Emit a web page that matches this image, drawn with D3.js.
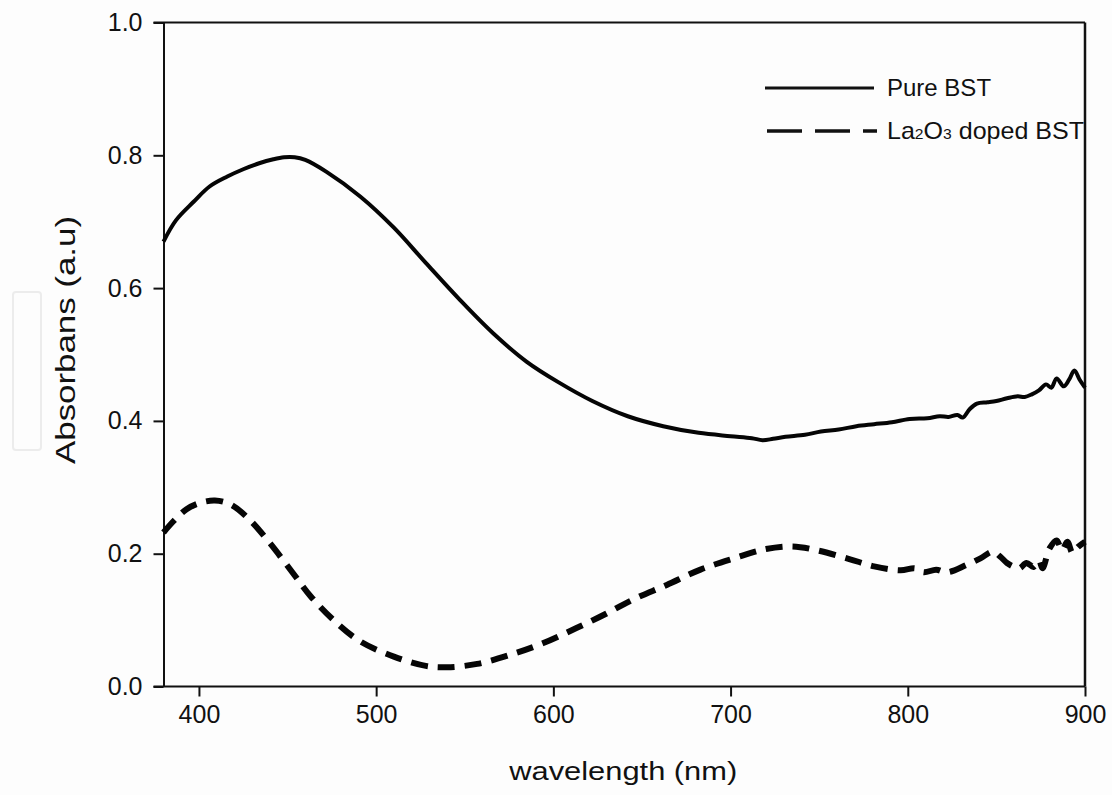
<!DOCTYPE html>
<html>
<head>
<meta charset="utf-8">
<script src="https://cdn.jsdelivr.net/npm/d3@7"></script>
<style>
  body { margin: 0; background: #fdfdfd; }
  svg { display: block; font-family: 'Liberation Sans', Arial, sans-serif; }
</style>
</head>
<body>
<svg id="chart" width="1112" height="795"></svg>
<script>
// wavelength (nm) and absorbance
const pureWl = [380, 387, 397, 406, 416, 425, 434, 442, 448, 454, 460, 472, 491, 510, 528, 547, 566, 585, 603, 622, 642, 662, 682, 700, 712, 718, 724, 731, 742, 751, 761, 771, 781, 791, 801, 811, 818, 823, 828, 831, 835, 839, 845, 850, 856, 862, 866, 870, 874, 878, 881, 884, 888, 891, 894, 897, 900];
const pureAbs = [0.670, 0.702, 0.730, 0.753, 0.768, 0.779, 0.788, 0.794, 0.797, 0.797, 0.793, 0.775, 0.738, 0.691, 0.638, 0.583, 0.532, 0.489, 0.458, 0.430, 0.407, 0.392, 0.382, 0.377, 0.374, 0.371, 0.373, 0.376, 0.379, 0.384, 0.387, 0.392, 0.395, 0.398, 0.403, 0.404, 0.407, 0.406, 0.409, 0.405, 0.418, 0.426, 0.428, 0.430, 0.434, 0.437, 0.436, 0.440, 0.446, 0.455, 0.450, 0.464, 0.452, 0.462, 0.476, 0.462, 0.450];

const dopedWl = [380, 386, 393, 400, 409, 418, 429, 440, 453, 463, 476, 491, 510, 528, 540, 557, 576, 594, 613, 630, 645, 664, 683, 702, 720, 735, 749, 767, 781, 796, 804, 809, 816, 822, 833, 841, 848, 852, 856, 860, 863, 867, 871, 874, 876, 880, 884, 887, 890, 893, 896, 900];
const dopedAbs = [0.232, 0.250, 0.267, 0.276, 0.280, 0.274, 0.250, 0.216, 0.171, 0.136, 0.100, 0.068, 0.045, 0.031, 0.029, 0.034, 0.048, 0.065, 0.088, 0.110, 0.131, 0.153, 0.176, 0.193, 0.207, 0.211, 0.205, 0.192, 0.181, 0.175, 0.178, 0.172, 0.176, 0.172, 0.183, 0.193, 0.203, 0.196, 0.186, 0.180, 0.178, 0.186, 0.180, 0.190, 0.178, 0.208, 0.220, 0.205, 0.218, 0.201, 0.210, 0.218];

const xTicks = [400, 500, 600, 700, 800, 900];
const yTicks = [0.0, 0.2, 0.4, 0.6, 0.8, 1.0];
const seriesNames = ['Pure BST', 'La2O3 doped BST'];

const svg = d3.select('#chart');
const margin = { left: 163.5, right: 1085, top: 22.5, bottom: 686.5 };

const x = d3.scaleLinear().domain([380, 900]).range([margin.left, margin.right]);
const y = d3.scaleLinear().domain([0, 1]).range([margin.bottom, margin.top]);

// faint scan artefact on the left edge
svg.append('rect')
  .attr('x', 13).attr('y', 292).attr('width', 28).attr('height', 158)
  .attr('rx', 3)
  .attr('fill', 'none').attr('stroke', '#ececec').attr('stroke-width', 2);

// frame: top and right lines
svg.append('line')
  .attr('x1', x(380) - 10).attr('x2', x(900))
  .attr('y1', y(1)).attr('y2', y(1))
  .attr('stroke', '#111').attr('stroke-width', 2);
svg.append('line')
  .attr('x1', x(900)).attr('x2', x(900))
  .attr('y1', y(1)).attr('y2', y(0))
  .attr('stroke', '#111').attr('stroke-width', 2.5);

const xAxis = svg.append('g')
  .attr('transform', `translate(0,${y(0)})`)
  .call(d3.axisBottom(x).tickValues(xTicks).tickSize(10).tickSizeOuter(0).tickFormat(d3.format('d')));

const yAxis = svg.append('g')
  .attr('transform', `translate(${x(380)},0)`)
  .call(d3.axisLeft(y).tickValues(yTicks).tickSize(10).tickSizeOuter(0).tickFormat(d3.format('.1f')));

[xAxis, yAxis].forEach(g => {
  g.select('.domain').attr('stroke', '#111').attr('stroke-width', 2);
  g.selectAll('.tick line').attr('stroke', '#111').attr('stroke-width', 2);
  g.selectAll('.tick text')
    .attr('fill', '#111')
    .style('font-size', '25px')
    .style('font-family', "'Liberation Sans', Arial, sans-serif");
});
// extend bottom axis line left to meet the 0.0 tick
xAxis.select('.domain').attr('d', `M${x(380) - 10},0H${x(900)}`);
xAxis.selectAll('.tick text').attr('y', 19).attr('dy', '0.71em');
yAxis.selectAll('.tick text').attr('x', -21);

// axis titles
svg.append('text')
  .attr('x', (margin.left + margin.right) / 2 - 1)
  .attr('y', 780)
  .attr('text-anchor', 'middle')
  .attr('textLength', 228).attr('lengthAdjust', 'spacingAndGlyphs')
  .style('font-size', '26px').attr('fill', '#111')
  .text('wavelength (nm)');

svg.append('text')
  .attr('transform', 'translate(75,340) rotate(-90)')
  .attr('text-anchor', 'middle')
  .attr('textLength', 248).attr('lengthAdjust', 'spacingAndGlyphs')
  .style('font-size', '27px').attr('fill', '#111')
  .text('Absorbans (a.u)');

// curves
const line = d3.line()
  .x(d => x(d[0]))
  .y(d => y(d[1]))
  .curve(d3.curveCatmullRom.alpha(0.5));

const plot = svg.append('g');

plot.append('path')
  .datum(pureWl.map((w, i) => [w, pureAbs[i]]))
  .attr('d', line)
  .attr('fill', 'none')
  .attr('stroke', '#050505')
  .attr('stroke-width', 4)
  .attr('stroke-linejoin', 'round');

plot.append('path')
  .datum(dopedWl.map((w, i) => [w, dopedAbs[i]]))
  .attr('d', line)
  .attr('fill', 'none')
  .attr('stroke', '#050505')
  .attr('stroke-width', 6)
  .attr('stroke-dasharray', '17,10');

// legend
const legend = svg.append('g');
legend.append('line')
  .attr('x1', 765).attr('x2', 874).attr('y1', 88).attr('y2', 88)
  .attr('stroke', '#111').attr('stroke-width', 3);
legend.append('text')
  .attr('x', 887).attr('y', 96)
  .style('font-size', '24px').attr('fill', '#111')
  .text(seriesNames[0]);

legend.append('line')
  .attr('x1', 767).attr('x2', 877).attr('y1', 131).attr('y2', 131)
  .attr('stroke', '#111').attr('stroke-width', 3.5)
  .attr('stroke-dasharray', '35,13');
const t2 = legend.append('text')
  .attr('x', 887).attr('y', 139)
  .style('font-size', '24px').attr('fill', '#111')
  .attr('textLength', 197).attr('lengthAdjust', 'spacingAndGlyphs');
t2.append('tspan').text('La');
t2.append('tspan').style('font-size', '15px').text('2');
t2.append('tspan').text('O');
t2.append('tspan').style('font-size', '15px').text('3');
t2.append('tspan').text(' doped BST');
</script>
</body>
</html>
